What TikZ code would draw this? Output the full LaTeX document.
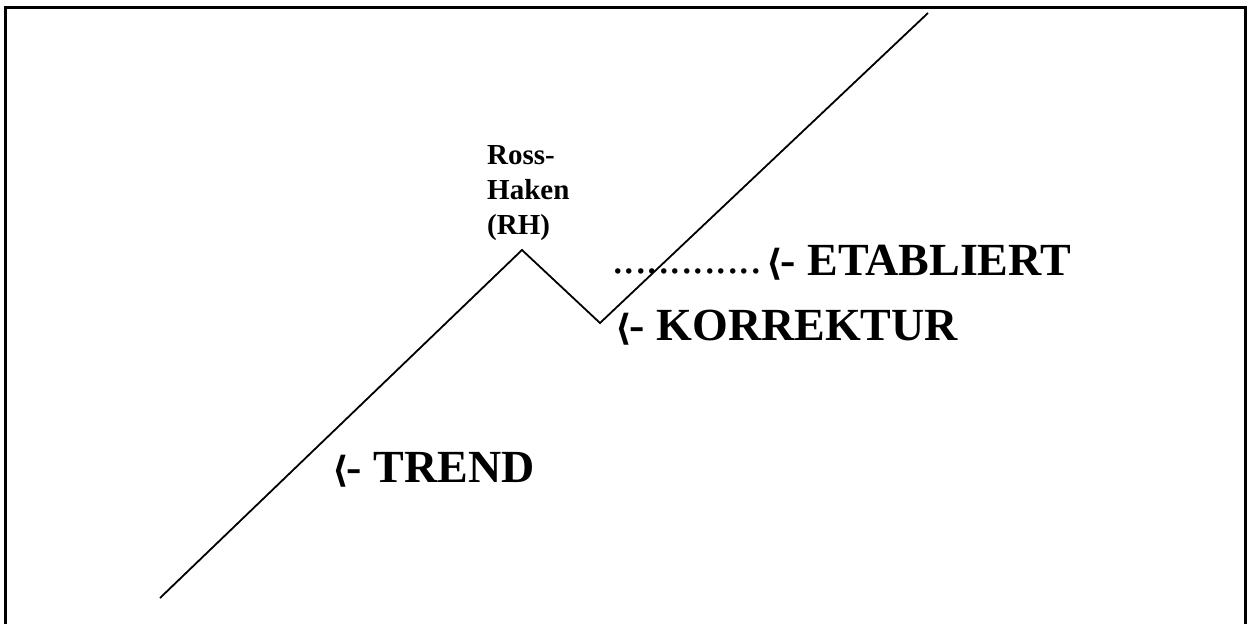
\documentclass[tikz,border=0pt]{standalone}
\usepackage{fontspec}
\setmainfont{Liberation Serif}
\newfontfamily\angfont{DejaVu Sans}
\newcommand{\ang}{{\angfont\fontsize{36}{40}\selectfont ⟨}\kern-2pt}
\begin{document}
\begin{tikzpicture}[x=1pt,y=-1pt,
  big/.style={font=\fontsize{46}{50}\selectfont\bfseries, inner sep=0pt, anchor=base west},
  small/.style={font=\fontsize{29}{35}\selectfont\bfseries, inner sep=0pt, align=left, anchor=south west},
  curve/.style={line width=1.8pt, line join=miter}]
\useasboundingbox (0,0) rectangle (1248,624);
\draw[line width=3pt] (5,624) -- (5,7) -- (1245,7) -- (1245,624);
\coordinate (start) at (160,598);
\coordinate (peak) at (522,250);
\coordinate (trough) at (600,323);
\coordinate (top) at (928,13);
\draw[curve] (start) -- (peak) -- (trough) -- (top);
\node[small] (rh) at (487,241) {Ross-\\Haken\\(RH)};
\node[big, font=\fontsize{46}{50}\selectfont] (dots) at (612,273) {.............};
\node[big] (etab) at (766,275) {\ang- ETABLIERT};
\node[big] (korr) at (615,340) {\ang- KORREKTUR};
\node[big] (trend) at (332,482) {\ang- TREND};
\end{tikzpicture}
\end{document}
